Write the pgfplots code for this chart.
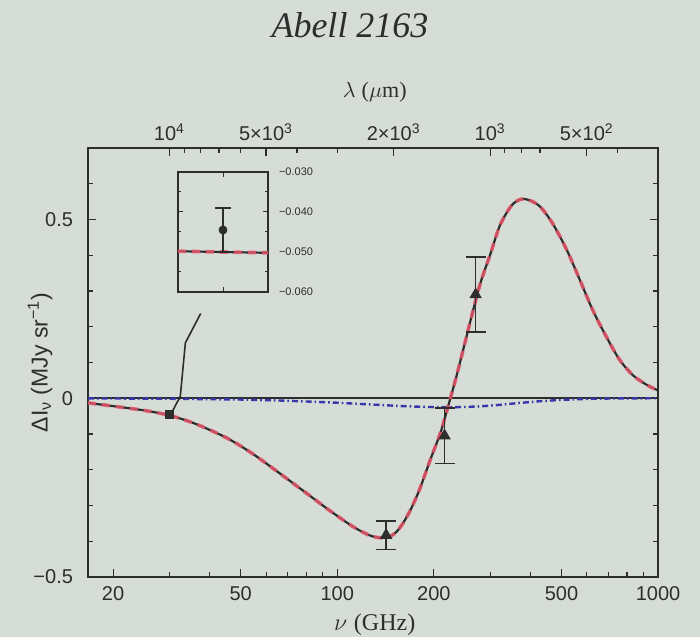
\documentclass[border=0pt]{standalone}
\usepackage{fontspec}
\setmainfont{Liberation Sans}
\newfontfamily\seriffont{Liberation Serif}
\usepackage{pgfplots}
\pgfplotsset{compat=1.18}
\definecolor{bg}{RGB}{214,221,214}
\definecolor{ink}{RGB}{45,45,45}
\definecolor{fitred}{RGB}{228,85,105}
\definecolor{kblue}{RGB}{55,55,170}

\pgfplotstableread{
nu y
16.7 -0.013
20 -0.022
25 -0.034
30 -0.048
36 -0.071
45 -0.110
54 -0.153
65 -0.205
80 -0.265
94 -0.312
111 -0.357
125 -0.382
135 -0.390
145 -0.388
155 -0.368
167 -0.322
180 -0.258
195 -0.172
210 -0.095
222 -0.020
235 0.060
250 0.155
265 0.245
280 0.325
300 0.403
322 0.485
350 0.540
375 0.557
400 0.553
430 0.535
470 0.488
520 0.414
570 0.332
627 0.245
693 0.169
760 0.107
836 0.064
924 0.037
1000 0.022
}\totaltab

\pgfplotstableread{
nu y
16.7 -0.0004
30 -0.0014
50 -0.0036
70 -0.0069
100 -0.0125
130 -0.0179
160 -0.0220
190 -0.0244
220 -0.0250
250 -0.0244
280 -0.0226
320 -0.0185
370 -0.0131
430 -0.0081
500 -0.0045
600 -0.0017
750 -0.0004
1000 0.0
}\kintab

\pgfplotstableread{
nu y err
142 -0.383 0.040
216 -0.105 0.078
270 0.290 0.105
}\datatab

\begin{document}
\begin{tikzpicture}
\fill[bg] (-44pt,-30pt) rectangle (306pt,288.5pt);
\node[font=\seriffont\itshape\fontsize{18}{20}\selectfont, text=ink] at (131pt,276pt) {Abell 2163};
\begin{axis}[
  at={(0,0)}, anchor=south west, scale only axis,
  width=285pt, height=214.5pt,
  xmode=log, xmin=16.7, xmax=1000, ymin=-0.5, ymax=0.7,
  axis line style={ink, line width=0.8pt},
  xtick={20,50,100,200,500,1000},
  xticklabels={20,50,100,200,500,1000},
  minor xtick={30,40,60,70,80,90,300,400,600,700,800,900},
  xtick pos=lower,
  ytick={-0.5,0,0.5}, yticklabels={−0.5,0,0.5},
  minor ytick={-0.4,-0.3,-0.2,-0.1,0.1,0.2,0.3,0.4,0.6},
  ytick pos=both,
  tick align=inside,
  major tick length=4pt, minor tick length=2.5pt,
  tick style={ink, line width=0.6pt},
  ticklabel style={font=\fontsize{10}{12}\selectfont, text=ink},
  yticklabel style={xshift=-4pt},
  xticklabel style={yshift=-1pt},
  xlabel={$\nu$ {\seriffont (GHz)}},
  xlabel style={at={(axis description cs:0.503,-0.112)}, anchor=center, font=\fontsize{12}{14}\selectfont, text=ink},
  ylabel={ΔI\textsubscript{ν} (MJy sr\textsuperscript{−1})},
  ylabel style={at={(axis description cs:-0.084,0.5)}, anchor=center, rotate=0, font=\fontsize{11.5}{14}\selectfont, text=ink},
  clip=false,
]
\addplot[ink, line width=1.1pt] coordinates {(16.7,0) (1000,0)};
\addplot[kblue, line width=1.2pt, dash pattern=on 3pt off 1.5pt on 0.8pt off 1.5pt] table[x=nu,y=y] {\kintab};
\addplot[ink, line width=1.1pt, smooth] table[x=nu,y=y] {\totaltab};
\addplot[fitred, line width=1.8pt, dash pattern=on 4pt off 3pt, smooth, opacity=0.85] table[x=nu,y=y] {\totaltab};
\addplot[only marks, mark=triangle*, mark size=3.2pt, color=ink,
  error bars/.cd, y dir=both, y explicit,
  error bar style={ink, line width=0.7pt},
  error mark options={rotate=90, mark size=5pt, ink, line width=0.7pt}]
  table[x=nu, y=y, y error=err] {\datatab};
\addplot[only marks, mark=square*, mark size=2pt, color=ink] coordinates {(30,-0.045)};
\draw[ink, line width=0.8pt] (axis cs:37.5,0.237) -- (axis cs:33.6,0.155) -- (axis cs:32.4,0.006) -- (axis cs:30.6,-0.037);
\end{axis}
\begin{axis}[
  at={(0,0)}, anchor=south west, scale only axis,
  width=285pt, height=214.5pt,
  xmode=log, xmin=16.7, xmax=1000, ymin=-0.5, ymax=0.7,
  axis x line*=top, axis y line=none,
  axis line style={ink, line width=0.8pt},
  xtick={29.98,59.96,149.9,299.8,599.6},
  xticklabels={10\textsuperscript{4},5×10\textsuperscript{3},2×10\textsuperscript{3},10\textsuperscript{3},5×10\textsuperscript{2}},
  minor xtick={33.3,37.5,42.8,50.0,74.9,99.9,333.1,374.7,428.3,749.5,999.3},
  tick align=inside,
  major tick length=4pt, minor tick length=2.5pt,
  tick style={ink, line width=0.6pt},
  ticklabel style={font=\fontsize{10}{12}\selectfont, text=ink},
  xlabel={$\lambda$ {\seriffont ($\mu$m)}},
  xlabel style={at={(axis description cs:0.503,1.13)}, anchor=center, font=\fontsize{11}{13}\selectfont, text=ink},
]
\addplot[draw=none] coordinates {(20,0)};
\end{axis}
\begin{axis}[
  at={(45pt,142.5pt)}, anchor=south west, scale only axis,
  width=45pt, height=60pt,
  xmin=29.5, xmax=30.5, ymin=-0.06, ymax=-0.03,
  scaled y ticks=false, scaled x ticks=false,
  axis line style={ink, line width=0.8pt},
  xtick={30}, xticklabels={},
  xtick pos=both,
  ytick={-0.06,-0.05,-0.04,-0.03},
  yticklabels={−0.060,−0.050,−0.040,−0.030},
  minor ytick={-0.055,-0.045,-0.035},
  ytick pos=both, yticklabel pos=right,
  tick align=inside,
  major tick length=2.5pt, minor tick length=1.5pt,
  tick style={ink, line width=0.5pt},
  ticklabel style={font=\fontsize{5.5}{6.5}\selectfont, text=ink},
  yticklabel style={xshift=2pt},
]
\addplot[ink, line width=1.1pt] coordinates {(29.5,-0.0498) (30.5,-0.0502)};
\addplot[fitred, line width=1.8pt, dash pattern=on 4pt off 3pt, opacity=0.85] coordinates {(29.5,-0.0498) (30.5,-0.0502)};
\addplot[only marks, mark=*, mark size=2pt, color=ink,
  error bars/.cd, y dir=both, y explicit,
  error bar style={ink, line width=0.6pt},
  error mark options={rotate=90, mark size=4pt, ink, line width=0.6pt}]
  coordinates {(30,-0.0445) +- (0,0.0055)};
\end{axis}
\pgfresetboundingbox
\path[use as bounding box] (-44pt,-30pt) rectangle (306pt,288.5pt);
\end{tikzpicture}
\end{document}
